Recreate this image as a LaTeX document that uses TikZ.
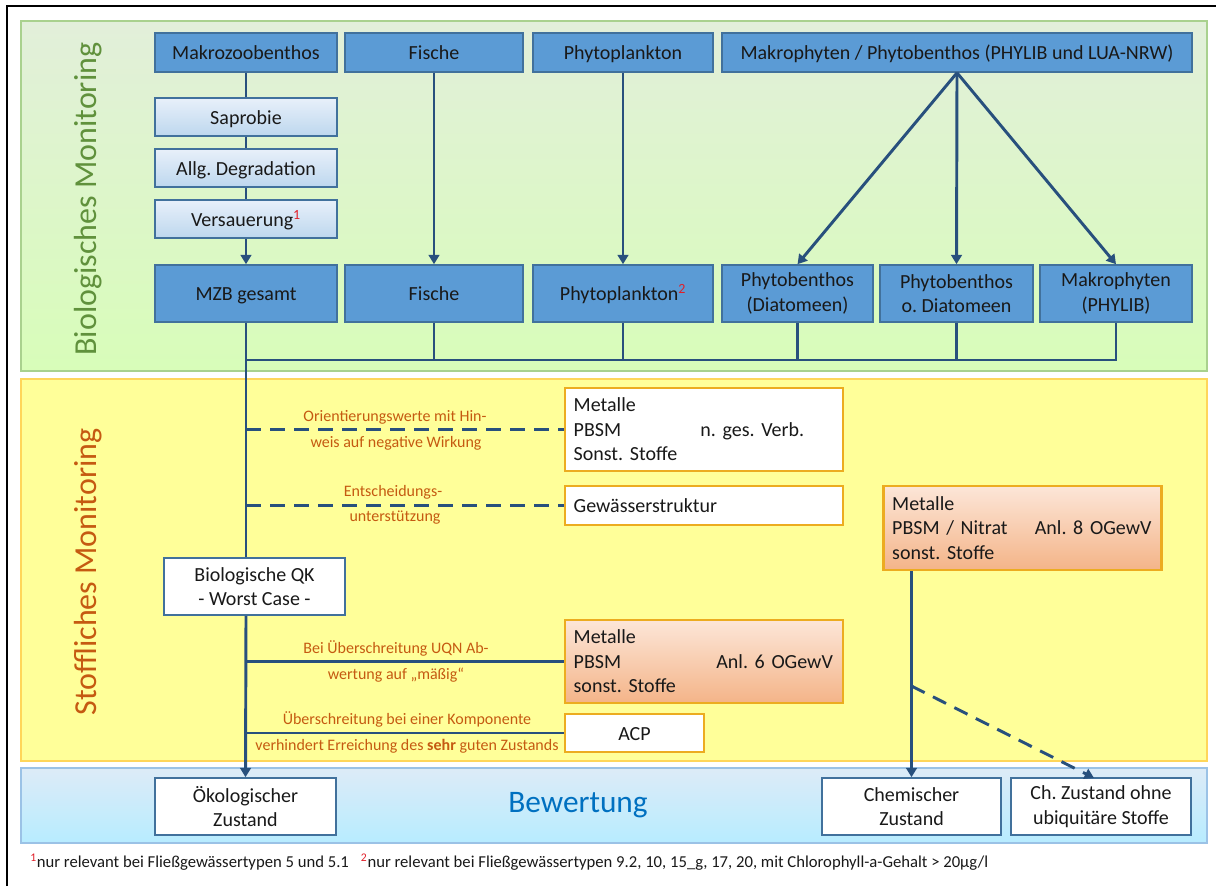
\documentclass[tikz,border=0pt]{standalone}
\usepackage{fontspec}
\setmainfont{Carlito}
\usetikzlibrary{arrows.meta,shadings}
\definecolor{bfill}{RGB}{91,155,213}
\definecolor{bbord}{RGB}{65,113,156}
\definecolor{lbtop}{RGB}{232,240,250}
\definecolor{lbbot}{RGB}{189,215,238}
\definecolor{otop}{RGB}{252,230,216}
\definecolor{obot}{RGB}{244,180,136}
\definecolor{obord}{RGB}{236,172,32}
\definecolor{conncol}{RGB}{40,80,125}
\definecolor{gtop}{RGB}{226,239,218}
\definecolor{gbot}{RGB}{216,253,185}
\definecolor{gbord}{RGB}{169,209,142}
\definecolor{yfill}{RGB}{255,255,153}
\definecolor{ybord}{RGB}{255,214,90}
\definecolor{btop}{RGB}{221,235,247}
\definecolor{bbot}{RGB}{183,236,255}
\definecolor{bband}{RGB}{155,194,230}
\definecolor{greentxt}{RGB}{96,145,60}
\definecolor{orangetxt}{RGB}{197,90,17}
\definecolor{bewblue}{RGB}{0,112,192}
\definecolor{fnred}{RGB}{225,30,40}
\definecolor{txt}{RGB}{25,25,25}
\newcommand\mybox[7]{\node[#6,minimum width={(#4-#2)*0.75pt},minimum height={(#5-#3)*0.75pt}] (#1) at ({(#2+#4)/2},{(#3+#5)/2}) {#7};}
\begin{document}
\frenchspacing
\begin{tikzpicture}[x=0.75pt,y=-0.75pt,
  boxfont/.style={font=\fontsize{15}{18.5}\selectfont\frenchspacing},
  oneline/.style={text height=10.5pt,text depth=0pt},
  bluebox/.style={boxfont,draw=bbord,fill=bfill,line width=1.2pt,text=txt,align=center,inner sep=2pt},
  lightbox/.style={boxfont,oneline,draw=bbord,top color=lbtop,bottom color=lbbot,line width=1.2pt,text=txt,align=center,inner sep=2pt},
  whitebox/.style={boxfont,draw=bbord,fill=white,line width=1.2pt,text=txt,align=center,inner sep=2pt},
  obox/.style={font=\fontsize{15}{18.4}\selectfont\frenchspacing,draw=obord,fill=white,line width=2.2pt,text=txt,align=left,inner xsep=6.5pt,inner ysep=2pt,text width=195.5pt},
  ocbox/.style={boxfont,oneline,draw=obord,fill=white,line width=2.2pt,text=txt,align=center,inner sep=2pt},
  ogbox/.style={obox,top color=otop,bottom color=obot},
  conn/.style={draw=conncol,line width=2.2pt},
  dconn/.style={conn,dash pattern=on 11pt off 7pt},
  arr/.style={-{Triangle[width=8pt,length=7pt]}},
  lbl/.style={font=\fontsize{12}{14}\selectfont,text=orangetxt,inner sep=1pt},
  bandlbl/.style={font=\fontsize{24}{28}\selectfont,rotate=90}
]
\useasboundingbox (0,0) rectangle (1216,886);
\fill[white] (0,0) rectangle (1216,886);
\draw[line width=2.2pt] (7,886) -- (7,6) -- (1216,6);
% bands
\draw[draw=gbord,line width=1pt,top color=gtop,bottom color=gbot] (21,21) rectangle (1207,371);
\draw[draw=ybord,line width=1pt,fill=yfill] (21,379) rectangle (1207,761);
\draw[draw=bband,line width=1pt,top color=btop,bottom color=bbot] (21,768) rectangle (1207,843);
\node[bandlbl,text=greentxt] (bioL) at (88,199) {Biologisches Monitoring};
\node[bandlbl,text=orangetxt] (stofL) at (88,572) {Stoffliches Monitoring};
\node[font=\fontsize{23.5}{28}\selectfont,text=bewblue] (bew) at (578,805) {Bewertung};
% boxes
\mybox{mzbT}{155}{33}{337}{72}{bluebox,oneline}{Makrozoobenthos}
\mybox{fischT}{345}{33}{523}{72}{bluebox,oneline}{Fische}
\mybox{phytT}{533}{33}{713}{72}{bluebox,oneline}{Phytoplankton}
\mybox{makT}{722}{33}{1192}{72}{bluebox,oneline}{Makrophyten / Phytobenthos (PHYLIB und LUA-NRW)}
\mybox{sap}{155}{98}{337}{136}{lightbox}{Saprobie}
\mybox{deg}{155}{149}{337}{187}{lightbox}{Allg. Degradation}
\mybox{vers}{155}{200}{337}{238}{lightbox}{Versauerung\textsuperscript{\textcolor{fnred}{1}}}
\mybox{mzb}{155}{265}{337}{322}{bluebox,oneline}{MZB gesamt}
\mybox{fisch}{345}{265}{523}{322}{bluebox,oneline}{Fische}
\mybox{phyt}{533}{265}{713}{322}{bluebox,oneline}{Phytoplankton\textsuperscript{\textcolor{fnred}{2}}}
\mybox{pbD}{722}{265}{873}{322}{bluebox}{Phytobenthos\\(Diatomeen)}
\mybox{pbO}{880}{265}{1033}{322}{bluebox}{Phytobenthos\\o. Diatomeen}
\mybox{mak}{1040}{265}{1192}{322}{bluebox}{Makrophyten\\(PHYLIB)}
\mybox{met1}{565}{388}{843}{471}{obox}{Metalle\\\mbox{\makebox[95pt][l]{PBSM}n. ges. Verb.}\\Sonst. Stoffe}
\mybox{gew}{565}{486}{843}{525}{obox}{Gewässerstruktur}
\mybox{qk}{164}{558}{345}{615}{whitebox}{Biologische QK\\- Worst Case -}
\mybox{met2}{565}{620}{843}{703}{ogbox}{Metalle\\\mbox{\makebox[107pt][l]{PBSM}Anl. 6 OGewV}\\sonst. Stoffe}
\mybox{acp}{565}{714}{704}{752}{ocbox}{ACP}
\mybox{met3}{884}{486}{1161}{570}{ogbox}{Metalle\\\mbox{\makebox[107pt][l]{PBSM / Nitrat}Anl. 8 OGewV}\\sonst. Stoffe}
\mybox{oeko}{155}{778}{336}{835}{whitebox}{Ökologischer\\Zustand}
\mybox{chem}{822}{778}{1001}{835}{whitebox}{Chemischer\\Zustand}
\mybox{chub}{1011}{778}{1191}{835}{whitebox}{Ch. Zustand ohne\\ubiquitäre Stoffe}
% connectors biological
\draw[conn] (mzbT) -- (sap);
\draw[conn] (sap) -- (deg);
\draw[conn] (deg) -- (vers);
\draw[conn,arr] (vers) -- (mzb);
\draw[conn,arr] (fischT) -- (fisch);
\draw[conn,arr] (phytT) -- (phyt);
\draw[conn,arr] (makT.south) -- (pbD.north);
\draw[conn,arr] (makT.south) -- (pbO.north);
\draw[conn,arr] (makT.south) -- (mak.north);
\coordinate (bus) at (0,360);
\draw[conn] (mzb.south |- bus) -- (mak.south |- bus) -- (mak.south);
\draw[conn] (fisch.south) -- (fisch.south |- bus);
\draw[conn] (phyt.south) -- (phyt.south |- bus);
\draw[conn] (pbD.south) -- (pbD.south |- bus);
\draw[conn] (pbO.south) -- (pbO.south |- bus);
% main vertical
\draw[conn] (mzb.south) -- (mzb.south |- qk.north);
\draw[conn,arr] (mzb.south |- qk.south) -- (oeko.north);
\draw[dconn] (mzb.south |- met1.west) -- (met1.west);
\draw[dconn] (mzb.south |- gew.west) -- (gew.west);
\draw[conn] (mzb.south |- met2.west) -- (met2.west);
\draw[conn] (mzb.south |- acp.west) -- (acp.west);
% labels
\node[lbl] (lo1) at (395,417) {Orientierungswerte mit Hin-};
\node[lbl] (lo2) at (396,443) {weis auf negative Wirkung};
\node[lbl] (le1) at (393,492) {Entscheidungs-};
\node[lbl] (le2) at (395,518) {unterstützung};
\node[lbl] (lb1) at (396,648) {Bei Überschreitung UQN Ab-};
\node[lbl] (lb2) at (396,675) {wertung auf „mäßig“};
\node[lbl] (lu1) at (407,719) {Überschreitung bei einer Komponente};
\node[lbl] (lu2) at (407,746) {verhindert Erreichung des \textbf{sehr} guten Zustands};
% chemical
\draw[conn,arr] (chem.north |- met3.south) -- (chem.north);
\coordinate (split) at (911.5,686);
\coordinate (chubin) at (1094,778);
\draw[dconn,arr] (split) -- (chubin);
% footnote
\node[anchor=west,font=\fontsize{12.5}{15}\selectfont,text=txt,inner sep=0pt] (fn) at (30,862) {\textcolor{fnred}{\textsuperscript{1}}nur relevant bei Fließgewässertypen 5 und 5.1\hspace{9pt}\textcolor{fnred}{\textsuperscript{2}}nur relevant bei Fließgewässertypen 9.2, 10, 15\_g, 17, 20, mit Chlorophyll-a-Gehalt > 20µg/l};
\end{tikzpicture}
\end{document}
